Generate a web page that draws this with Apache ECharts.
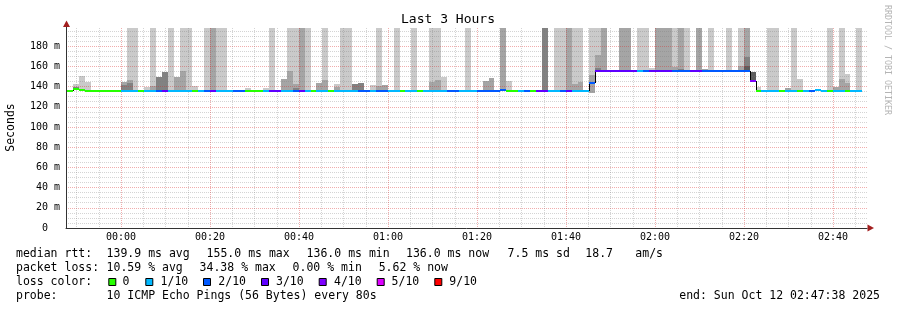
<!DOCTYPE html>
<html><head><meta charset="utf-8">
<script src="https://cdn.jsdelivr.net/npm/echarts@6/dist/echarts.min.js"></script>
<style>html,body{margin:0;padding:0;background:#fff}#c{width:897px;height:310px}</style>
</head><body><div id="c"></div>
<script>
// ---------------- DATA ----------------
const chartTitle = 'Last 3 Hours';
const yAxisName = 'Seconds';
const sideNote = 'RRDTOOL / TOBI OETIKER';
// time in minutes relative to 00:00 (window 23:47:38 .. 02:47:38)
const viewStartMin = -12.37;
const viewEndMin = 167.63;
const firstStepMin = -12.08;      // first 80 s step (23:47:55)
const stepMin = 80 / 60;          // 80 s per step
const yMaxMs = 198;

// median rtt per step (ms)
const median = [
 136,137.5,137,136,136,136,136,136,136,136,
 136,136,136,136,136,136,136,136,136,136,
 136,136,136,136,136,136,136,136,136,136,
 136,136,136,136,136,136,136,136,136,136,
 136,136,136,136,136,136,136,136,136,136,
 136,136,136,136,136,136,136,136,136,136,
 136,136,136,136,136,136,136,136,136,136,
 136,136,136,137,136,136,136,136,136,136,
 136,136,136,136,136,136,136,136,143.7,155,
 155,155,155,155,155,155,155,155,155,155,
 155,155,155,155,155,155,155,155,155,155,
 155,155,155,155,155,145.4,136,136,136,136,
 136,136,136,136,136,136,137,136,136,136,
 136,136,136,136
];
// loss class per step (index into lossLabels)
const lossClass = [
 0,0,0,0,0,0,0,0,0,1,
 1,1,0,1,1,2,3,1,1,1,
 1,0,1,2,3,1,1,1,2,2,
 0,0,0,1,3,3,1,1,2,3,
 1,0,1,1,0,1,1,1,1,2,
 2,1,2,2,1,1,0,1,1,0,
 1,1,1,1,2,2,1,1,1,2,
 2,2,2,2,0,0,1,2,0,3,
 3,1,1,2,3,1,1,1,2,3,
 3,3,3,3,3,3,1,2,3,3,
 3,3,2,2,2,3,3,2,2,2,
 2,2,2,2,2,4,0,1,1,1,
 0,1,1,0,1,2,1,1,0,1,
 1,0,1,1
];
const lossLabels = ['0','1/10','2/10','3/10','4/10','5/10','9/10'];

// smoke bands: [step, top ms] (drawn from the step's floor up)
const smokeLight = [[1,142.4],[2,150.3],[3,144.4],[10,198],[11,198],[13,139.5],[14,198],[17,198],[19,198],[20,198],[21,140.4],[23,198],[25,198],[26,198],[30,139],[33,138.5],[34,198],[37,198],[38,198],[40,198],[43,198],[45,142.4],[46,198],[47,198],[51,141.4],[52,198],[55,198],[58,198],[61,198],[62,198],[63,149.3],[67,198],[74,145.4],[82,198],[83,198],[85,198],[86,198],[88,198],[89,198],[96,198],[97,198],[98,158],[102,198],[104,198],[108,198],[111,198],[113,198],[116,140],[118,198],[119,198],[122,198],[123,147.4],[128,198],[130,198],[131,152.3],[133,198]];
const smokeMedium = [[2,138],[9,144.4],[10,146.4],[14,140.4],[18,149.3],[19,155.3],[24,198],[36,147.4],[37,155.3],[38,143],[39,198],[42,143.4],[43,146.4],[45,140],[52,140.4],[53,141.4],[61,144.4],[62,146.4],[70,145.4],[71,148.4],[73,198],[84,198],[85,142.4],[86,144.4],[88,151],[89,171],[90,198],[93,198],[94,198],[99,198],[100,198],[101,198],[102,159],[103,198],[106,198],[107,157],[113,160],[114,198],[121,139],[129,140],[130,147.4],[131,143.4]];
const smokeDark = [[1,139.5],[9,141.4],[10,143.7],[15,149.3],[16,154.3],[38,139],[48,142.4],[49,143.4],[80,198],[89,158.3],[103,157],[114,169]];
const smokeDarkest = [[114,160],[115,154.8]];
const smokeFloor = [[88,134]];

const rttLabel = 'median rtt:';
const rttStats = ['139.9 ms avg','155.0 ms max','136.0 ms min','136.0 ms now','7.5 ms sd','18.7','am/s'];
const lossLabel = 'packet loss:';
const lossStats = ['10.59 % avg','34.38 % max','0.00 % min','5.62 % now'];
const colorLabel = 'loss color:';
const probeLabel = 'probe:';
const probeText = '10 ICMP Echo Pings (56 Bytes) every 80s';
const endText = 'end: Sun Oct 12 02:47:38 2025';

// ---------------- STYLE / LAYOUT ----------------
const lossColors = ['#26ff00','#00b8ff','#0059ff','#5e00ff','#7e00ff','#dd00ff','#ff0000'];
const shadeColors = ['#cacaca','#a5a5a5','#828282','#5e5e5e'];
const MONO = '"DejaVu Sans Mono", monospace';
const legFont = '11.5px ' + MONO;
const rttX = [106.6, 206.6, 306.6, 406.0, 507.6, 585.3, 635.3];
const lossX = [106.6, 199.6, 292.6, 378.7];
const boxX = [108.3, 145.3, 203, 261, 318.7, 376.7, 434.3];
const boxLabelX = [122.6, 160.6, 218.3, 276, 334, 391.6, 449.3];
const rowY = [254.5, 268.5, 282.5, 296.5];
const minorGrid = 'rgba(120,120,120,0.32)';
const majorGrid = 'rgba(215,40,40,0.38)';

// ---------------- BUILD ----------------
const n = median.length;
function sparseToArray(pairs, def) {
  const a = new Array(n).fill(def);
  pairs.forEach(p => { a[p[0]] = p[1]; });
  return a;
}
const sL = sparseToArray(smokeLight, 0), sM = sparseToArray(smokeMedium, 0),
      sD = sparseToArray(smokeDark, 0), sX = sparseToArray(smokeDarkest, 0),
      sF = sparseToArray(smokeFloor, null);
const smokeData = [], medData = [];
for (let k = 0; k < n; k++) {
  const t0 = firstStepMin + k * stepMin, t1 = t0 + stepMin;
  smokeData.push([t0, t1, sF[k] == null ? median[k] : sF[k], sL[k], sM[k], sD[k], sX[k]]);
  medData.push([t0, t1, median[k], k ? median[k - 1] : median[k], lossClass[k]]);
}

function renderSmoke(params, api) {
  const t0 = api.value(0), t1 = api.value(1), lo = api.value(2);
  const children = [];
  for (let i = 0; i < 4; i++) {
    const top = api.value(3 + i);
    if (!top) continue;
    const a = api.coord([t0, top]), b = api.coord([t1, lo]);
    const x0 = Math.round(a[0]), x1 = Math.round(b[0]);
    const y0 = Math.round(a[1]), y1 = Math.round(b[1]);
    children.push({type: 'rect', shape: {x: x0, y: y0, width: x1 - x0, height: y1 - y0},
      style: {fill: shadeColors[i]}});
  }
  return {type: 'group', children};
}
function renderMedian(params, api) {
  const t0 = api.value(0), t1 = api.value(1), m = api.value(2), prev = api.value(3), cls = api.value(4);
  const a = api.coord([t0, m]), b = api.coord([t1, m]);
  const x0 = Math.round(a[0]), x1 = Math.round(b[0]);
  const children = [];
  if (prev !== m) {
    const p = api.coord([t0, prev]);
    children.push({type: 'line', shape: {x1: x0 + 0.5, y1: Math.round(p[1]), x2: x0 + 0.5, y2: Math.round(a[1])},
      style: {stroke: '#000', lineWidth: 1}});
  }
  children.push({type: 'rect', shape: {x: x0, y: Math.round(a[1]) - 1, width: x1 - x0, height: 2},
    style: {fill: lossColors[cls]}});
  return {type: 'group', children};
}

function fmtTime(v) {
  if (Math.abs(v - Math.round(v / 20) * 20) > 1e-6) return '';
  let m = ((Math.round(v) % 1440) + 1440) % 1440;
  const h = Math.floor(m / 60), mm = m % 60;
  return String(h).padStart(2, '0') + ':' + String(mm).padStart(2, '0');
}
function fmtMs(v) {
  if (Math.abs(v % 20) > 1e-6) return '';
  return v === 0 ? '0  ' : v + ' m';
}

const graphic = [];
function txt(x, y, text, font, extra) {
  graphic.push({type: 'text', x, y, silent: true, z: 10,
    style: Object.assign({text, font, fill: '#000', textAlign: 'left', textVerticalAlign: 'middle',
      align: 'left', verticalAlign: 'middle'}, extra || {})});
}
txt(448, 19.5, chartTitle, '13px ' + MONO, {textAlign: 'center', align: 'center'});
graphic.push({type: 'text', x: 11, y: 127.5, rotation: Math.PI / 2, silent: true,
  style: {text: yAxisName, font: '11.5px ' + MONO, fill: '#000', textAlign: 'center', align: 'center',
    textVerticalAlign: 'middle', verticalAlign: 'middle'}});
graphic.push({type: 'text', x: 887.5, y: 60, rotation: -Math.PI / 2, silent: true,
  style: {text: sideNote, font: '8.3px ' + MONO, fill: '#b4b4b4', textAlign: 'center', align: 'center',
    textVerticalAlign: 'middle', verticalAlign: 'middle'}});
txt(16, rowY[0], rttLabel, legFont);
rttStats.forEach((s, i) => txt(rttX[i], rowY[0], s, legFont));
txt(16, rowY[1], lossLabel, legFont);
lossStats.forEach((s, i) => txt(lossX[i], rowY[1], s, legFont));
txt(16, rowY[2], colorLabel, legFont);
lossLabels.forEach((s, i) => {
  graphic.push({type: 'rect', silent: true, shape: {x: boxX[i] + 0.5, y: rowY[2] - 4, width: 7, height: 7},
    style: {fill: lossColors[i], stroke: '#000', lineWidth: 1}});
  txt(boxLabelX[i], rowY[2], s, legFont);
});
txt(16, rowY[3], probeLabel, legFont);
txt(106.6, rowY[3], probeText, legFont);
txt(880, rowY[3], endText, legFont, {textAlign: 'right', align: 'right'});
// axis arrows
graphic.push({type: 'line', silent: true, shape: {x1: 66.5, y1: 26, x2: 66.5, y2: 28.5}, style: {stroke: '#333', lineWidth: 1}});
graphic.push({type: 'polygon', silent: true, shape: {points: [[63, 27], [70, 27], [66.5, 20.5]]},
  style: {fill: '#a31f1f'}});
graphic.push({type: 'polygon', silent: true, shape: {points: [[867.5, 224.5], [867.5, 231.5], [874, 228]]},
  style: {fill: '#a31f1f'}});

const chart = echarts.init(document.getElementById('c'), null, {renderer: 'canvas'});
chart.setOption({
  animation: false,
  backgroundColor: '#ffffff',
  grid: {left: 66, top: 28, width: 801, height: 200, containLabel: false},
  xAxis: {
    type: 'value', min: viewStartMin, max: viewEndMin, splitNumber: 9,
    axisLine: {show: true, onZero: false, lineStyle: {color: '#333', width: 1}},
    axisTick: {show: false},
    axisLabel: {formatter: fmtTime, fontFamily: MONO, fontSize: 10, color: '#000', margin: 4,
      showMinLabel: false, showMaxLabel: false},
    splitLine: {show: true, showMinLine: false, showMaxLine: false,
      lineStyle: {color: majorGrid, type: [1, 1], width: 1}},
    minorTick: {show: false, splitNumber: 4},
    minorSplitLine: {show: true, lineStyle: {color: minorGrid, type: [1, 1], width: 1}}
  },
  yAxis: {
    type: 'value', min: 0, max: yMaxMs, splitNumber: 10,
    axisLine: {show: true, onZero: false, lineStyle: {color: '#333', width: 1}},
    axisTick: {show: false},
    axisLabel: {formatter: fmtMs, fontFamily: MONO, fontSize: 10, color: '#000', margin: 6,
      showMaxLabel: false},
    splitLine: {show: true, showMinLine: false, showMaxLine: false,
      lineStyle: {color: majorGrid, type: [1, 1], width: 1}},
    minorTick: {show: false, splitNumber: 4},
    minorSplitLine: {show: true, lineStyle: {color: minorGrid, type: [1, 1], width: 1}}
  },
  series: [
    {type: 'custom', name: 'smoke', renderItem: renderSmoke, data: smokeData, clip: true, z: -1,
      encode: {x: [0, 1], y: [2, 3]}, silent: true},
    {type: 'custom', name: 'median', renderItem: renderMedian, data: medData, clip: true, z: 5,
      encode: {x: [0, 1], y: [2, 3]}, silent: true}
  ],
  graphic
});
</script></body></html>
